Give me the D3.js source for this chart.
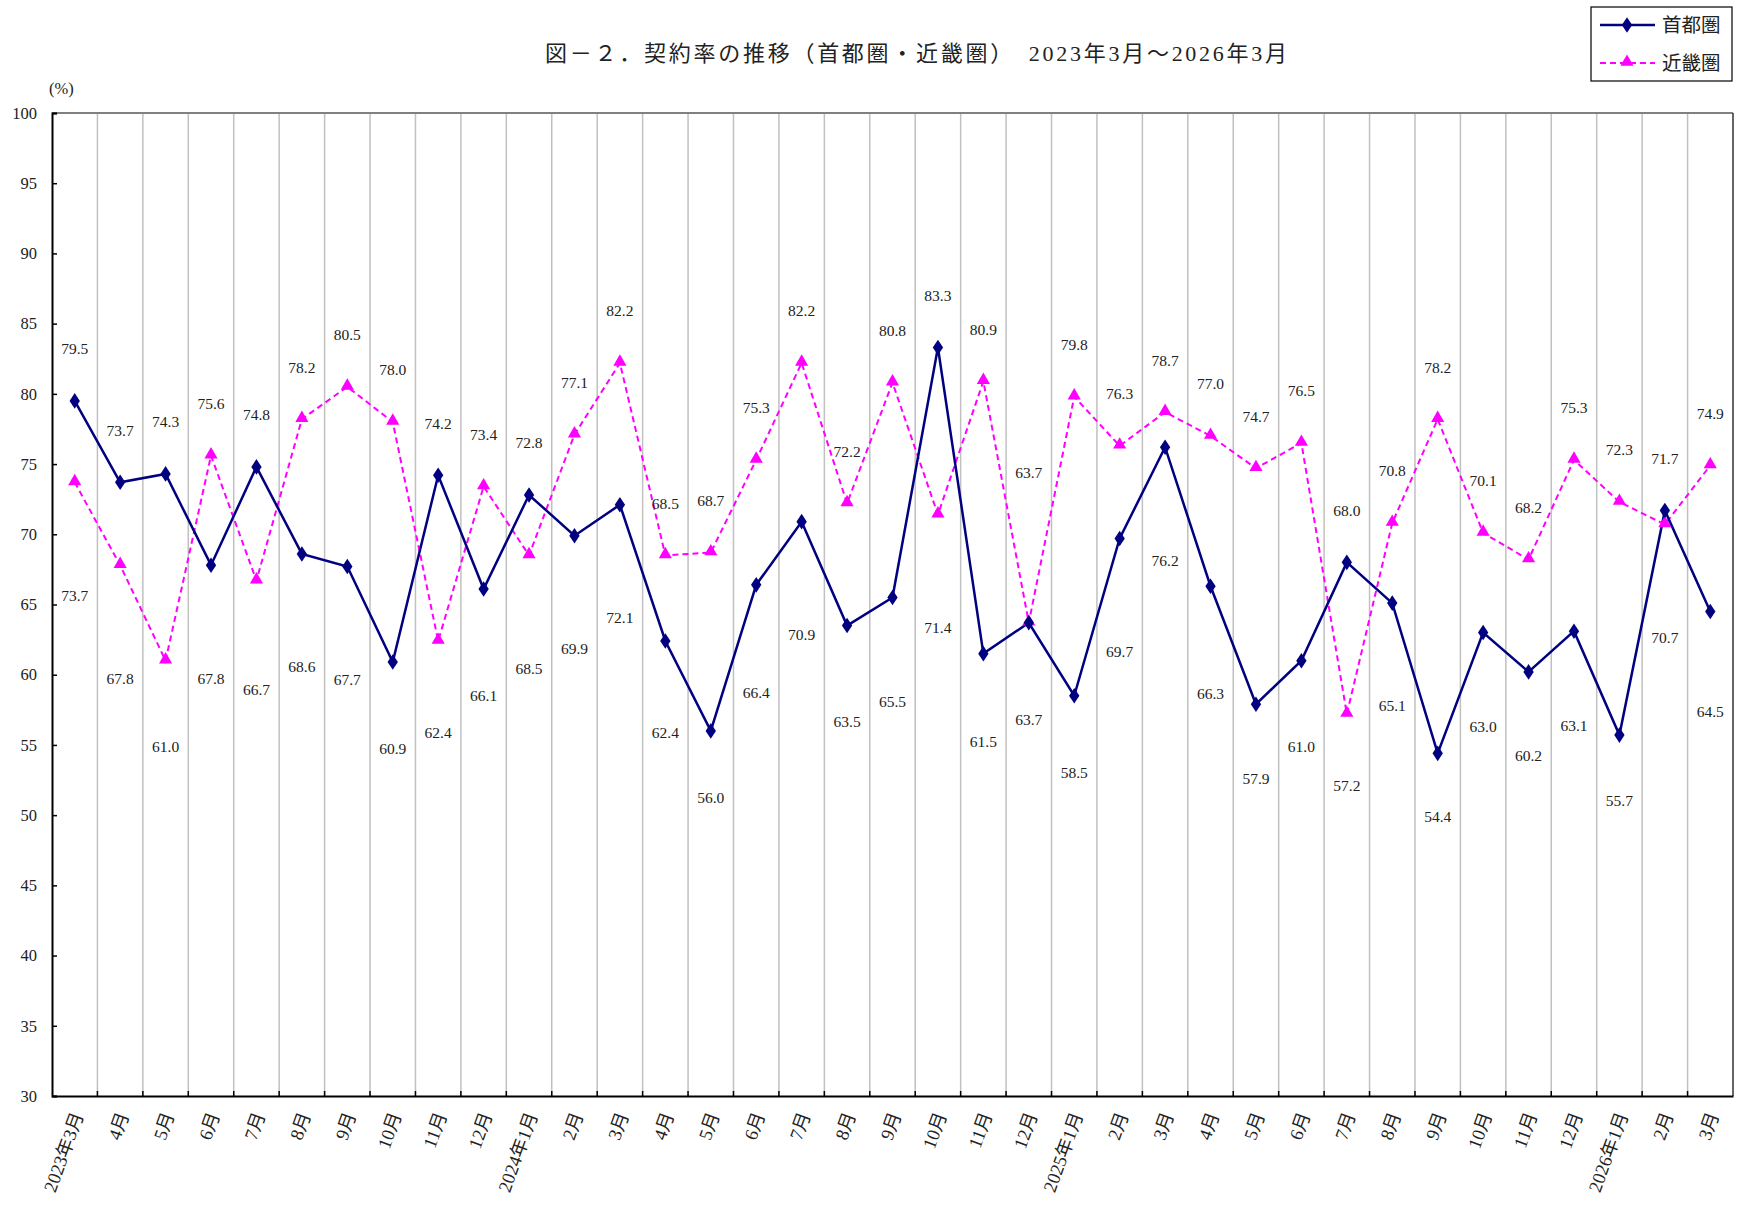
<!DOCTYPE html>
<html lang="ja">
<head>
<meta charset="utf-8">
<script src="https://cdn.jsdelivr.net/npm/d3@7"></script>
<style>
  html, body { margin: 0; padding: 0; background: #fff; }
  svg { display: block; }
  text { font-family: "Liberation Serif", "DejaVu Serif", "Noto Sans CJK JP", serif; fill: #222; }
</style>
</head>
<body>
<svg id="chart" width="1738" height="1208"></svg>
<script>
const months = ["2023年3月","4月","5月","6月","7月","8月","9月","10月","11月","12月",
  "2024年1月","2月","3月","4月","5月","6月","7月","8月","9月","10月","11月","12月",
  "2025年1月","2月","3月","4月","5月","6月","7月","8月","9月","10月","11月","12月",
  "2026年1月","2月","3月"];
const shuto = [79.5,73.7,74.3,67.8,74.8,68.6,67.7,60.9,74.2,66.1,
  72.8,69.9,72.1,62.4,56.0,66.4,70.9,63.5,65.5,83.3,61.5,63.7,
  58.5,69.7,76.2,66.3,57.9,61.0,68.0,65.1,54.4,63.0,60.2,63.1,
  55.7,71.7,64.5];
const kinki = [73.7,67.8,61.0,75.6,66.7,78.2,80.5,78.0,62.4,73.4,
  68.5,77.1,82.2,68.5,68.7,75.3,82.2,72.2,80.8,71.4,80.9,63.7,
  79.8,76.3,78.7,77.0,74.7,76.5,57.2,70.8,78.2,70.1,68.2,75.3,
  72.3,70.7,74.9];
const yTicks = [30,35,40,45,50,55,60,65,70,75,80,85,90,95,100];
const seriesNames = ["首都圏","近畿圏"];
const titleText = "図－２．契約率の推移（首都圏・近畿圏）　2023年3月～2026年3月";

const svg = d3.select("#chart");
const L = 52, R = 1733, T = 113, B = 1096;

const x = d3.scaleBand().domain(d3.range(months.length)).range([L, R]).padding(0);
const y = d3.scaleLinear().domain([30, 100]).range([B, T]);
const cx = i => x(i) + x.bandwidth() / 2;

// vertical grid lines at category boundaries
svg.append("g").selectAll("line")
  .data(d3.range(1, months.length))
  .join("line")
  .attr("x1", i => x(i)).attr("x2", i => x(i))
  .attr("y1", T).attr("y2", B)
  .attr("stroke", "#c0c0c0").attr("stroke-width", 1.5);

// frame
svg.append("line").attr("x1", L).attr("x2", R).attr("y1", T).attr("y2", T)
  .attr("stroke", "#808080").attr("stroke-width", 2);
svg.append("line").attr("x1", R).attr("x2", R).attr("y1", T).attr("y2", B)
  .attr("stroke", "#333").attr("stroke-width", 1.5);

// y axis
const yAxis = d3.axisRight(y).tickValues(yTicks).tickSize(5).tickFormat(d3.format("d"));
const gy = svg.append("g").attr("transform", `translate(${L},0)`).call(yAxis);
gy.select(".domain").attr("stroke", "#000").attr("stroke-width", 2);
gy.selectAll(".tick line").attr("stroke", "#000").attr("stroke-width", 1.5);
gy.selectAll(".tick text").attr("x", -15).attr("text-anchor", "end")
  .attr("font-size", 16.5).attr("fill", "#222");

// x axis
const xAxis = d3.axisBottom(x).tickSize(0).tickFormat(i => months[i]);
const gx = svg.append("g").attr("transform", `translate(0,${B})`).call(xAxis);
gx.select(".domain").attr("stroke", "#000").attr("stroke-width", 2);
gx.selectAll(".tick text")
  .attr("font-size", 18.5).attr("fill", "#222")
  .attr("text-anchor", "end")
  .attr("x", 0).attr("y", 0).attr("dy", "0.35em")
  .attr("transform", "translate(3,17) rotate(-70)");
// inner boundary ticks on the bottom axis
svg.append("g").selectAll("line")
  .data(d3.range(1, months.length))
  .join("line")
  .attr("x1", i => x(i)).attr("x2", i => x(i))
  .attr("y1", B).attr("y2", B - 5)
  .attr("stroke", "#000").attr("stroke-width", 1.5);

// unit label
svg.append("text").attr("x", 49).attr("y", 94).attr("font-size", 16.5).text("(%)");

// title
svg.append("text").attr("x", 545).attr("y", 61).attr("font-size", 22)
  .attr("textLength", 742).attr("lengthAdjust", "spacing").text(titleText);

// lines
const line = d3.line().x((d, i) => cx(i)).y(d => y(d));
svg.append("path").datum(kinki).attr("d", line).attr("fill", "none")
  .attr("stroke", "#ff00ff").attr("stroke-width", 2).attr("stroke-dasharray", "6,4");
svg.append("path").datum(shuto).attr("d", line).attr("fill", "none")
  .attr("stroke", "#000080").attr("stroke-width", 2.5);

const tri = d3.symbol().type(d3.symbolTriangle).size(75);
const dia = d3.symbol().type(d3.symbolDiamond).size(70);

svg.append("g").selectAll("path").data(kinki).join("path")
  .attr("d", tri).attr("fill", "#ff00ff")
  .attr("transform", (d, i) => `translate(${cx(i)},${y(d) - 1})`);
svg.append("g").selectAll("path").data(shuto).join("path")
  .attr("d", dia).attr("fill", "#000080")
  .attr("transform", (d, i) => `translate(${cx(i)},${y(d)}) scale(1.15,1)`);

// data labels: the higher value of each month above, the lower below
const belowGap = v => Math.max(63, Math.min(113, 63 + (v - 55) * 3.9));
function labelY(v, other, tie) {
  if (tie) return y(v) - 150;
  if (v >= other) return y(v) - 52;
  return y(v) + belowGap(v);
}
const labels = [];
shuto.forEach((v, i) => labels.push({ i, v, ly: labelY(v, kinki[i] + (kinki[i] === v ? 0.01 : 0), false) }));
kinki.forEach((v, i) => labels.push({ i, v, ly: labelY(v, shuto[i], shuto[i] === v) }));
svg.append("g").selectAll("text").data(labels).join("text")
  .attr("x", d => cx(d.i)).attr("y", d => d.ly).attr("dy", "0.35em")
  .attr("text-anchor", "middle").attr("font-size", 15.5)
  .text(d => d.v.toFixed(1));

// legend
const lg = svg.append("g");
lg.append("rect").attr("x", 1591).attr("y", 7).attr("width", 141).attr("height", 74)
  .attr("fill", "#fff").attr("stroke", "#000").attr("stroke-width", 1.2);
lg.append("line").attr("x1", 1600).attr("x2", 1655).attr("y1", 25).attr("y2", 25)
  .attr("stroke", "#000080").attr("stroke-width", 2.5);
lg.append("path").attr("d", dia).attr("fill", "#000080")
  .attr("transform", "translate(1627,25) scale(1.15,1)");
lg.append("line").attr("x1", 1600).attr("x2", 1655).attr("y1", 63).attr("y2", 63)
  .attr("stroke", "#ff00ff").attr("stroke-width", 2).attr("stroke-dasharray", "6,4");
lg.append("path").attr("d", tri).attr("fill", "#ff00ff")
  .attr("transform", "translate(1627,62)");
lg.selectAll("text.lt").data(seriesNames).join("text").attr("class", "lt")
  .attr("x", 1662).attr("y", (d, i) => 25 + i * 38).attr("dy", "0.36em")
  .attr("font-size", 19.5).text(d => d);
</script>
</body>
</html>
